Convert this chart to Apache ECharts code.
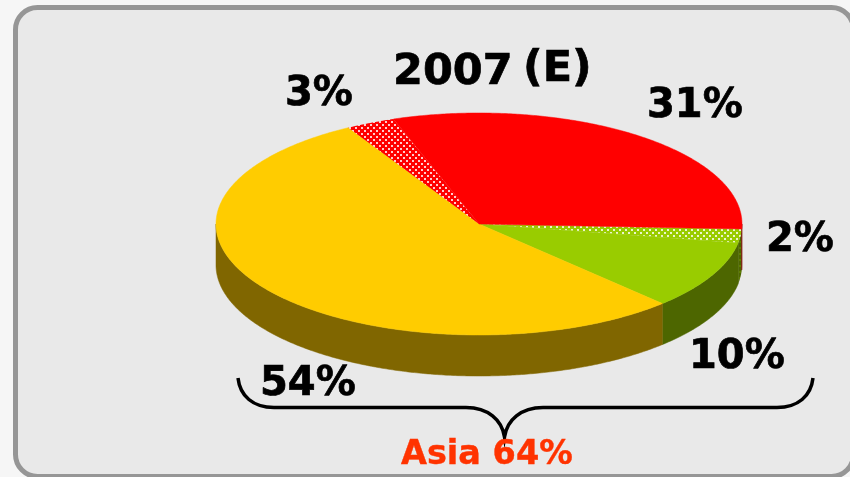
<!DOCTYPE html>
<html><head><meta charset="utf-8">
<style>html,body{margin:0;padding:0;background:#f6f6f6}#c{width:850px;height:477px}</style>
<script src="https://cdn.jsdelivr.net/npm/echarts@6/dist/echarts.min.js"></script>
</head><body><div id="c"></div>
<script>
// Data, in drawing order (clockwise from the right-hand edge)
const categories = ['Asia other', 'Other Asia', 'China', 'Other', 'Rest'];
const values = [2, 10, 54, 3, 31];
const pctLabels = ['2%', '10%', '54%', '3%', '31%'];
const topColors = ['#99cc00', '#99cc00', '#ffcc00', '#ff0000', '#ff0000'];
const sideColors = ['#4d6600', '#4d6600', '#806600', '#800000', '#800000'];
const dotted = [true, false, false, true, false];
const titleParts = ['2007', '(E)'];
const bracketLabel = 'Asia 64%';

// Layout
const cx = 479, cy = 224, rx = 263, ry = 111, depth = 41, startDeg = 2.6;
const labelPos = [[766, 241], [689, 358], [260, 385], [285, 95], [647, 107]];
const font = '"DejaVu Sans", Verdana, sans-serif';
const bracePath = 'M238 378 C240 396 253 407.5 274 407.5 L466 407.5 C488 407.5 502 420 504.5 437 C507 420 521 407.5 543 407.5 L777 407.5 C798 407.5 811 396 813 378';

function dots(base, dot) {
  const s = 6, cv = document.createElement('canvas');
  cv.width = s; cv.height = s;
  const g = cv.getContext('2d');
  g.fillStyle = base; g.fillRect(0, 0, s, s);
  g.fillStyle = dot;
  g.fillRect(1, 1, 2, 2); g.fillRect(4, 4, 2, 2);
  return { image: cv, repeat: 'repeat' };
}
function pt(deg, dy) {
  const t = deg * Math.PI / 180;
  return [cx + rx * Math.cos(t), cy + ry * Math.sin(t) + (dy || 0)];
}
function arc(a, b, dy) {
  const p = [], n = Math.max(2, Math.ceil(Math.abs(b - a) * 2));
  for (let i = 0; i <= n; i++) p.push(pt(a + (b - a) * i / n, dy));
  return p;
}
const total = values.reduce((s, v) => s + v, 0);
const starts = [];
values.reduce((acc, v, i) => { starts[i] = acc; return acc + v; }, 0);

const chart = echarts.init(document.getElementById('c'), null, { renderer: 'canvas' });

function renderItem(params, api) {
  const i = params.dataIndex;
  const a = startDeg + api.value(2) / total * 360;
  const b = a + api.value(1) / total * 360;
  const topFill = dotted[i] ? dots(topColors[i], 'rgba(255,255,255,0.8)') : topColors[i];
  const sideFill = dotted[i] ? dots(sideColors[i], 'rgba(153,204,0,0.25)') : sideColors[i];
  const children = [];
  [[0, 180], [360, 540]].forEach(([lo, hi]) => {
    const s = Math.max(a, lo), e = Math.min(b, hi);
    if (e > s) {
      children.push({
        type: 'polygon',
        shape: { points: arc(s, e, 0).concat(arc(e, s, depth)) },
        style: { fill: sideFill, stroke: dotted[i] ? null : sideColors[i], lineWidth: 0.5 }
      });
    }
  });
  children.push({
    type: 'polygon',
    shape: { points: [[cx, cy]].concat(arc(a, b, 0)) },
    style: { fill: topFill, stroke: dotted[i] ? null : topColors[i], lineWidth: 0.5 }
  });
  return { type: 'group', children };
}

function text(str, x, y, size, color, sw) {
  const c = color || '#000';
  return {
    type: 'text', x, y, z: 10,
    style: { text: str, fill: c, stroke: c, lineWidth: sw == null ? 0.7 : sw, font: 'bold ' + size + 'px ' + font, textAlign: 'left', textVerticalAlign: 'middle' }
  };
}

chart.setOption({
  animation: false,
  graphic: [
    { type: 'rect', z: -10, shape: { x: 15.5, y: 7.5, width: 838, height: 469, r: 22 },
      style: { fill: '#e9e9e9', stroke: '#969696', lineWidth: 5 } },
    text(titleParts[0], 393, 73, 43),
    text(titleParts[1], 523, 70, 43),
    text(bracketLabel, 401, 455, 33.5, '#ff3300', 0.4)
  ].concat(pctLabels.map((l, i) => text(l, labelPos[i][0], labelPos[i][1], 40))),
  series: [{
    type: 'custom',
    coordinateSystem: 'none',
    silent: true,
    renderItem,
    data: categories.map((c, i) => [c, values[i], starts[i]])
  }, {
    type: 'custom',
    coordinateSystem: 'none',
    silent: true,
    renderItem: () => ({
      type: 'path',
      shape: { pathData: bracePath },
      style: { fill: 'none', stroke: '#000', lineWidth: 3.5 }
    }),
    data: [[0]]
  }]
});
</script></body></html>
